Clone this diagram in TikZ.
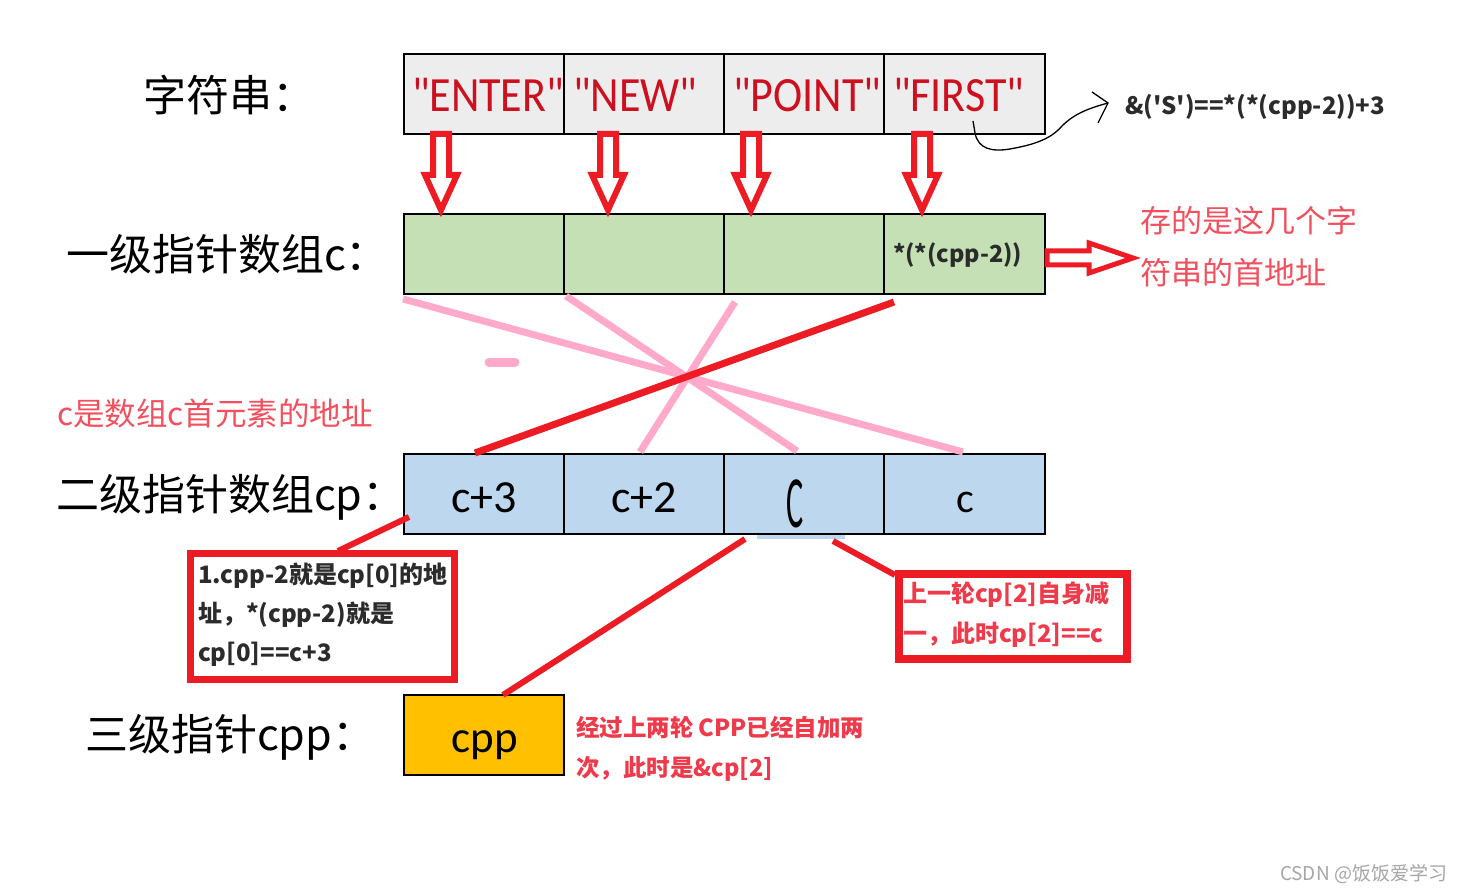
\documentclass[tikz,border=0pt]{standalone}
\usepackage{fontspec}
\setmainfont{Carlito}[Ligatures=TeXOff]
\newfontfamily\cjk{Noto Sans CJK SC}[Ligatures=TeXOff]
\usetikzlibrary{calc}
\definecolor{strgray}{HTML}{EDEDED}
\definecolor{cgreen}{HTML}{C5E0B4}
\definecolor{cpblue}{HTML}{BDD7EE}
\definecolor{cppyel}{HTML}{FFC000}
\definecolor{pred}{HTML}{ED1C24}
\definecolor{ppink}{HTML}{FFAACA}
\definecolor{annred}{HTML}{EE3A4A}
\definecolor{lightred}{HTML}{F2505E}
\definecolor{strred}{HTML}{CC1020}
\definecolor{darktxt}{HTML}{2B2B2B}
\definecolor{wmgray}{HTML}{A6A6A6}
\newcommand{\fs}[1]{\fontsize{#1}{#1}\selectfont}
\begin{document}
\begin{tikzpicture}[x=1pt,y=-1pt,
 cell/.style={draw=black,line width=2pt,minimum width=160pt,minimum height=80pt,inner sep=0pt,outer sep=0pt,anchor=north west},
 txt/.style={inner sep=0pt,outer sep=0pt,anchor=base west},
 ctxt/.style={inner sep=0pt,outer sep=0pt,anchor=base},
 strtxt/.style={txt,text=strred,font=\fs{44}},
 celltxt/.style={ctxt,text=black,font=\fs{46}},
 lbl/.style={txt,text=black,font=\cjk\fs{43}},
 ann/.style={txt,text=annred,font=\cjk\bfseries\fs{24}},
 annb/.style={txt,text=darktxt,font=\cjk\bfseries\fs{24}},
 bigann/.style={txt,text=lightred,font=\cjk\fs{32}},
 hollow/.style={draw=pred,line width=6pt,fill=white,line join=miter},
 pinkline/.style={draw=ppink,line width=7pt},
 redline/.style={draw=pred,line width=7pt},
 lead/.style={draw=pred,line width=6pt},
 redbox/.style={draw=pred,line width=7.5pt,inner sep=0pt,outer sep=0pt,anchor=north west},
 downarrow/.pic={\draw[hollow] (-8,0) -- (8,0) -- (8,41) -- (16,41) -- (0,76) -- (-16,41) -- (-8,41) -- cycle;}
]
\useasboundingbox (0,0) rectangle (1461,893);
\fill[white] (0,0) rectangle (1461,893);

% row labels
\node[lbl] (l1) at (143,112) {字符串：};
\node[lbl] (l2) at (66,270) {一级指针数组c：};
\node[lbl] (l3) at (56,510) {二级指针数组cp：};
\node[lbl] (l4) at (85,750) {三级指针cpp：};

% strings row
\node[cell,fill=strgray] (s1) at (404,54) {};
\node[cell,fill=strgray] (s2) at (564,54) {};
\node[cell,fill=strgray] (s3) at (724,54) {};
\node[cell,fill=strgray,minimum width=161pt] (s4) at (884,54) {};
\node[strtxt] (t1) at (412,112) {\scalebox{1}[1.12]{"ENTER"}};
\node[strtxt] (t2) at (573,112) {\scalebox{1}[1.12]{"NEW"}};
\node[strtxt] (t3) at (733,112) {\scalebox{1}[1.12]{"POINT"}};
\node[strtxt] (t4) at (893,112) {\scalebox{1}[1.12]{"FIRST"}};

% c row
\node[cell,fill=cgreen] (c1) at (404,214) {};
\node[cell,fill=cgreen] (c2) at (564,214) {};
\node[cell,fill=cgreen] (c3) at (724,214) {};
\node[cell,fill=cgreen,minimum width=161pt] (c4) at (884,214) {};
\node[annb,font=\cjk\bfseries\fs{23.5}] (c4t) at (893,263) {*(*(cpp-2))};

% hollow down arrows
\pic at ($(s1.south west)+(37,0)$) {downarrow};
\pic at ($(s2.south west)+(44,0)$) {downarrow};
\pic at ($(s3.south west)+(27,0)$) {downarrow};
\pic at ($(s4.south west)+(38,0)$) {downarrow};

% hollow right arrow
\coordinate (ra) at ($(c4.east)+(2,4)$);
\draw[hollow,line width=5pt] ($(ra)+(0,-7)$) -- ++(42,0) -- ++(0,-8) -- ($(ra)+(86,0)$) -- ($(ra)+(42,15)$) -- ++(0,-8) -- ($(ra)+(0,7)$) -- cycle;
\node[bigann,font=\cjk\fs{31}] (r1) at (1140,233) {存的是这几个字};
\node[bigann,font=\cjk\fs{31}] (r2) at (1140,284) {符串的首地址};

% squiggle arrow
\coordinate (q0) at (973,121);
\coordinate (q1) at (1108,103);
\draw[black,line width=1.3pt] (q0) -- (975,133) .. controls (978,149) and (992,152) .. (1010,149) .. controls (1032,145) and (1050,140) .. (1062,126) .. controls (1075,113) and (1090,108) .. (q1);
\draw[black,line width=1.3pt] (1092,92) -- (q1) -- (1098,123);
\node[annb,font=\cjk\bfseries\fs{24}] (eq) at (1125,115) {\&('S')==*(*(cpp-2))+3};

% cp row
\node[cell,fill=cpblue] (p1) at (404,454) {};
\node[cell,fill=cpblue] (p2) at (564,454) {};
\node[cell,fill=cpblue] (p3) at (724,454) {};
\node[cell,fill=cpblue,minimum width=161pt] (p4) at (884,454) {};
\fill[cpblue] (757,535) rectangle (845,539);
\node[celltxt] (p1t) at (484,512) {c+3};
\node[celltxt] (p2t) at (644,512) {c+2};
\node[celltxt] (p3t) at (795,527) {\scalebox{0.7}[1.6]{C}};
\node[celltxt,font=\fs{42}] (p4t) at (965,512) {c};

% crossing lines
\draw[pinkline] ($(c1.south west)+(-1,5)$) -- ($(p4.north west)+(79,-2)$);
\draw[pinkline] ($(c2.south west)+(2,2)$) -- ($(p3.north west)+(73,-3)$);
\draw[pinkline] ($(c3.south west)+(11,8)$) -- ($(p2.north west)+(76,-2)$);
\draw[pinkline,line width=9pt,line cap=round] (489,362) coordinate (bl0) -- (515,362) coordinate (bl1);
\draw[redline] ($(c4.south west)+(10,8)$) -- ($(p1.north west)+(71,-1)$);

% cpp
\node[cell,fill=cppyel] (pp) at (404,695) {};
\node[celltxt,font=\fs{45}] (ppt) at (485,752) {cpp};

% annotation left
\node[bigann,font=\cjk\fs{31.5}] (a0) at (57,425) {c是数组c首元素的地址};

% box 1
\node[annb] (b1a) at (198,583) {1.cpp-2就是cp[0]的地};
\node[annb] (b1b) at (198,622) {址，*(cpp-2)就是};
\node[annb] (b1c) at (198,661) {cp[0]==c+3};
\node[redbox,minimum width=264pt,minimum height=126pt] (b1) at (190.5,553.5) {};
\coordinate (b1top) at (338,551);
\draw[lead] ($(p1.south west)+(5,-17)$) -- (b1top);

% box 2
\node[ann] (b2a) at (903,602) {上一轮cp[2]自身减};
\node[ann] (b2b) at (903,642) {一，此时cp[2]==c};
\node[redbox,minimum width=228pt,minimum height=85pt] (b2) at (899,574) {};
\draw[lead] ($(p3.south west)+(109,7)$) -- ($(b2.north west)+(-4,1)$);

% cpp leader
\draw[lead] ($(p3.south west)+(21,5)$) -- ($(pp.north west)+(99,0)$);

% bottom annotation
\node[ann,font=\cjk\bfseries\fs{23.5}] (d1) at (576,736) {经过上两轮 CPP已经自加两};
\node[ann,font=\cjk\bfseries\fs{23.5}] (d2) at (576,776) {次，此时是\&cp[2]};

% watermark
\node[txt,anchor=base east,text=wmgray,font=\cjk\fs{19}] (wm) at (1447,880) {CSDN @饭饭爱学习};
\end{tikzpicture}
\end{document}
